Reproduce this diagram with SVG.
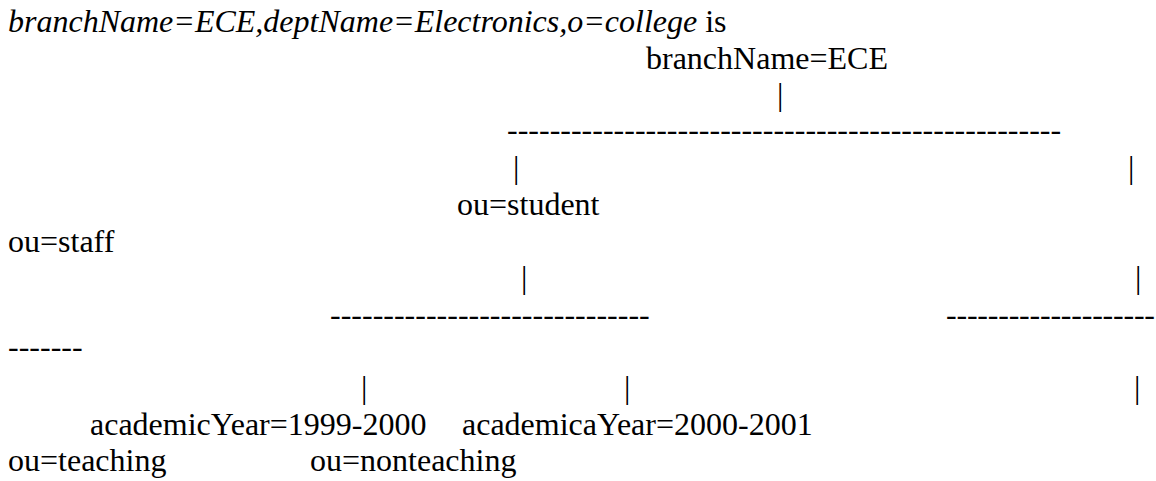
<svg xmlns="http://www.w3.org/2000/svg" width="1156" height="481" viewBox="0 0 1156 481">
<style>
text{font-family:"Liberation Serif","Times New Roman",serif;font-size:32px;fill:#000}
.it{font-style:italic}
</style>
<rect width="1156" height="481" fill="#fff"/>
<g id="caption"><text x="8" y="32"><tspan class="it">branchName=ECE,deptName=Electronics,o=college</tspan> is</text></g>
<g id="node-branch"><text x="646" y="68.6">branchName=ECE</text></g>
<g id="node-student"><text x="457" y="215">ou=student</text></g>
<g id="node-staff"><text x="8" y="252">ou=staff</text></g>
<g id="node-year1"><text x="90" y="434.6">academicYear=1999-2000</text></g>
<g id="node-year2"><text x="462" y="434.6">academicaYear=2000-2001</text></g>
<g id="node-teaching"><text x="8" y="471">ou=teaching</text></g>
<g id="node-nonteaching"><text x="310" y="471">ou=nonteaching</text></g>
<g id="connectors">
<text x="777" y="105">|</text>
<text x="507" y="140">----------------------------------------------------</text>
<text x="513" y="178.4">|</text>
<text x="1128" y="178.4">|</text>
<text x="521" y="288.2">|</text>
<text x="1135" y="288.2">|</text>
<text x="330" y="324.8">------------------------------</text>
<text x="946" y="324.8" textLength="209" lengthAdjust="spacing">--------------------</text>
<text x="8" y="357">-------</text>
<text x="361" y="398">|</text>
<text x="624" y="398">|</text>
<text x="1134" y="398">|</text>
</g>
</svg>
